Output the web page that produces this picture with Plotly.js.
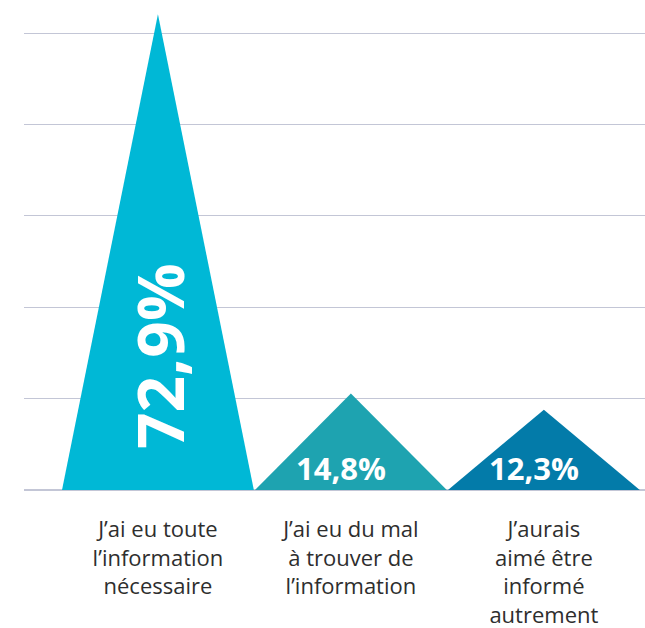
<!DOCTYPE html>
<html>
<head>
<meta charset="utf-8">
<script src="https://cdn.plot.ly/plotly-3.0.1.min.js"></script>
<style>html,body{margin:0;padding:0;background:#fff;}#chart{width:645px;height:628px;}</style>
</head>
<body>
<div id="chart"></div>
<script>
const categories = [
  "J’ai eu toute<br>l’information<br>nécessaire",
  "J’ai eu du mal<br>à trouver de<br>l’information",
  "J’aurais<br>aimé être<br>informé<br>autrement"
];
const values = [72.9, 14.8, 12.3];
const valueLabels = ["72,9%", "14,8%", "12,3%"];
const colors = ["#00B8D6", "#1EA3B0", "#037BA9"];

const half = 0.497;
const traces = values.map((v, i) => ({
  type: "scatter",
  mode: "lines",
  x: [i - half, i, i + half, i - half],
  y: [0, v, 0, 0],
  fill: "toself",
  fillcolor: colors[i],
  line: {width: 0, color: colors[i]},
  hoverinfo: "skip",
  showlegend: false
}));

const annotations = values.map((v, i) => {
  if (i === 0) {
    return {x: i, y: 20.5, xref: "x", yref: "y", text: "<b>" + valueLabels[i] + "</b>",
      showarrow: false, textangle: -90, xshift: 1,
      font: {family: "Open Sans, sans-serif", size: 64, color: "#ffffff"}};
  }
  return {x: i, y: 3.4, xref: "x", yref: "y", text: "<b>" + valueLabels[i] + "</b>",
    showarrow: false, xshift: -10,
    font: {family: "Open Sans, sans-serif", size: 31, color: "#ffffff"}};
});

const layout = {
  width: 645, height: 628,
  margin: {l: 24, r: 0, t: 5, b: 138},
  paper_bgcolor: "#ffffff",
  plot_bgcolor: "#ffffff",
  xaxis: {
    range: [-0.694, 2.524],
    tickvals: [0, 1, 2],
    ticktext: categories,
    showgrid: false, zeroline: false, showline: false,
    ticks: "",
    ticklabelstandoff: 24,
    tickfont: {family: "Open Sans, sans-serif", size: 22, color: "#2E2E2E"}
  },
  yaxis: {
    range: [0, 74.3],
    tick0: 0, dtick: 14,
    showticklabels: false,
    showgrid: true, gridcolor: "#C3C6D6", gridwidth: 1,
    zeroline: true, zerolinecolor: "#C3C6D6", zerolinewidth: 1.5,
    showline: false
  },
  annotations: annotations
};

Plotly.newPlot("chart", traces, layout, {displayModeBar: false, staticPlot: true});
</script>
</body>
</html>
